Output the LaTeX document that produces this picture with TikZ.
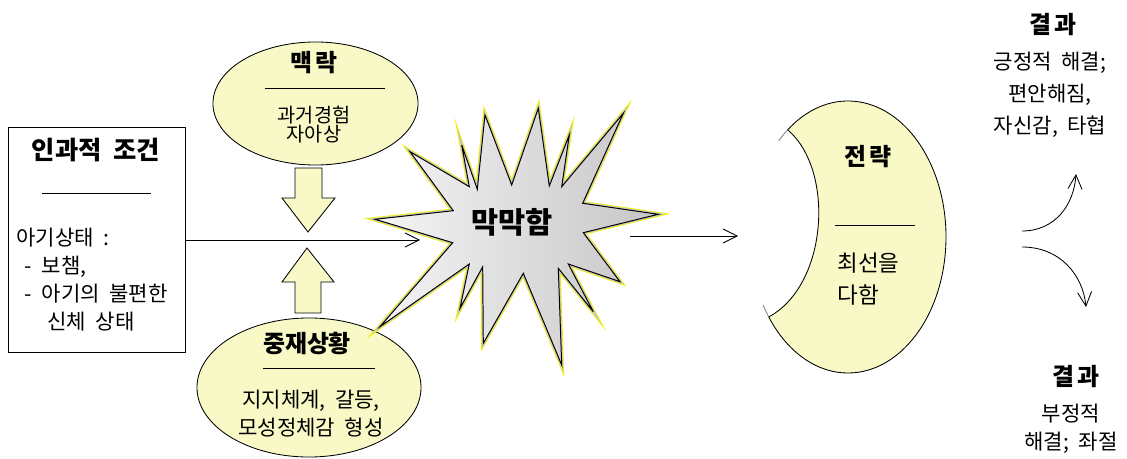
\documentclass[tikz,border=0pt]{standalone}
\usepackage{fontspec}
\setmainfont{Noto Sans CJK KR}[WordSpace=2]
\usetikzlibrary{arrows.meta,positioning,shapes.geometric}
\definecolor{Cream}{HTML}{F8F9C6}
\definecolor{Glow}{HTML}{F2F200}

\begin{document}
\begin{tikzpicture}[x=0.025cm,y=-0.025cm,
    line width=0.6pt,
    causebox/.style={draw,fill=white,minimum width=4.425cm,minimum height=5.625cm},
    ctx/.style={ellipse,draw,fill=Cream,inner sep=0pt},
    head/.style={font=\fontsize{17}{20}\selectfont\bfseries,inner sep=0pt},
    spaced/.style={font=\fontsize{17}{20}\selectfont\bfseries\addfontfeature{LetterSpace=12}},
    body/.style={font=\fontsize{15}{20}\selectfont,inner sep=0pt,align=center},
    bar/.style={inner sep=0pt},
    blockarr/.style={draw,fill=Cream,line join=miter},
    arr/.style={-{Straight Barb[length=10pt,width=10pt]}}
  ]
    \useasboundingbox (0,0) rectangle (1127,459);
    % causal conditions
    \node[causebox] (cause) at (96.5,240) {};
    \node[head,font=\fontsize{18}{22}\selectfont\bfseries] (causetitle) at (96,150) {인과적 조건};
    \node[bar] (causebar) at (96.5,193) {\rule{2.7cm}{0.5pt}};
    \node[body,align=left,anchor=west] (causetext) at (16,279.5)
      {아기상태 :\\\hspace*{6pt}- 보챔,\\\hspace*{6pt}- 아기의 불편한\\\hspace*{22pt}신체 상태};
    % context and intervening conditions
    \node[ctx,minimum width=5.125cm,minimum height=3.075cm] (context) at (315.5,103.5) {};
    \node[head,spaced] (contexttitle) at (314,63) {맥락};
    \node[bar] (contextbar) at (325,88) {\rule{3cm}{0.5pt}};
    \node[body,font=\fontsize{14}{14}\selectfont] (contexttext) at (314,124.5) {과거경험\\자아상};
    \node[ctx,minimum width=5.6cm,minimum height=3.475cm] (inter) at (309,387.5) {};
    \node[head] (intertitle) at (307,343) {중재상황};
    \node[bar] (interbar) at (319,368) {\rule{2.8cm}{0.5pt}};
    \node[body] (intertext) at (311,414) {지지체계, 갈등,\\모성정체감 형성};
    \draw[blockarr] (295,168) -- (322,168) -- (322,198) -- (335,198) -- (308,232)
      -- (282,198) -- (295,198) -- cycle;
    \draw[blockarr] (307,248) -- (334,282) -- (321,282) -- (321,313) -- (295,313)
      -- (295,282) -- (282,282) -- cycle;
    % phenomenon
    \def\burstpath{(375,219.3) -- (453.3,210.7) -- (410,151.7) -- (469.3,186.7)
      -- (461.7,145) -- (477.3,189.3) -- (485,115) -- (511.7,185) -- (538.3,108.3)
      -- (549.3,186) -- (569.3,135) -- (561.7,186.7) -- (623.3,113.3) -- (582.7,203.3)
      -- (658.3,214.3) -- (583.3,232.7) -- (620,281.7) -- (568.3,264) -- (593.3,311.7)
      -- (558.3,268.3) -- (561.7,365) -- (523.3,273.3) -- (483.3,343.3) -- (482.7,266.7)
      -- (460,308.3) -- (469.3,264) -- (380,326.7) -- (452.7,242.7) -- cycle}
    \draw[Glow,line width=3.2pt,miter limit=25] \burstpath;
    \draw[gray!45,line width=2pt,miter limit=25] \burstpath;
    \shade[left color=gray!8,right color=gray!45] \burstpath;
    \draw[line width=0.7pt] \burstpath;
    \node[font=\fontsize{21}{24}\selectfont\bfseries,inner sep=0pt] (burst) at (512,222) {막막함};
    \coordinate (burstin) at (420,240);
    \coordinate (burstout) at (630,236);
    \coordinate (moonin) at (738,236);
    \draw[arr] (cause.east) -- (burstin);
    \draw[arr] (burstout) -- (moonin);
    % strategy
    \draw[fill=Cream] (848,237) ++(232:98 and 136)
      arc[start angle=232,end angle=504,x radius=98,y radius=136]
      .. controls (828,285) and (835,170) .. cycle;
    \draw[gray] (848,237) ++(232:98 and 136) arc[start angle=232,end angle=225,x radius=98,y radius=136];
    \draw[gray] (848,237) ++(144:98 and 136) arc[start angle=144,end angle=150,x radius=98,y radius=136];
    \node[head,spaced] (strattitle) at (868,157) {전략};
    \node[bar] (stratbar) at (875,225) {\rule{2cm}{0.5pt}};
    \node[body,align=left,anchor=west,font=\fontsize{16}{22.7}\selectfont] (strattext) at (837,279) {최선을\\다함};
    % consequences
    \node[head,spaced] (goodtitle) at (1053,25) {결과};
    \node[body,font=\fontsize{15}{22.7}\selectfont] (goodtext) at (1050,95) {긍정적 해결;\\편안해짐,\\자신감, 타협};
    \node[head,spaced] (badtitle) at (1076,377) {결과};
    \node[body] (badtext) at (1071,429) {부정적\\해결; 좌절};
    \coordinate (forkup) at (1022,231);
    \coordinate (goodend) at (1076,174);
    \coordinate (forkdown) at (1022,247);
    \coordinate (badend) at (1086,307);
    \draw[arr] (forkup) .. controls (1055,231) and (1074,205) .. (goodend);
    \draw[arr] (forkdown) .. controls (1060,247) and (1083,275) .. (badend);
\end{tikzpicture}
\end{document}
